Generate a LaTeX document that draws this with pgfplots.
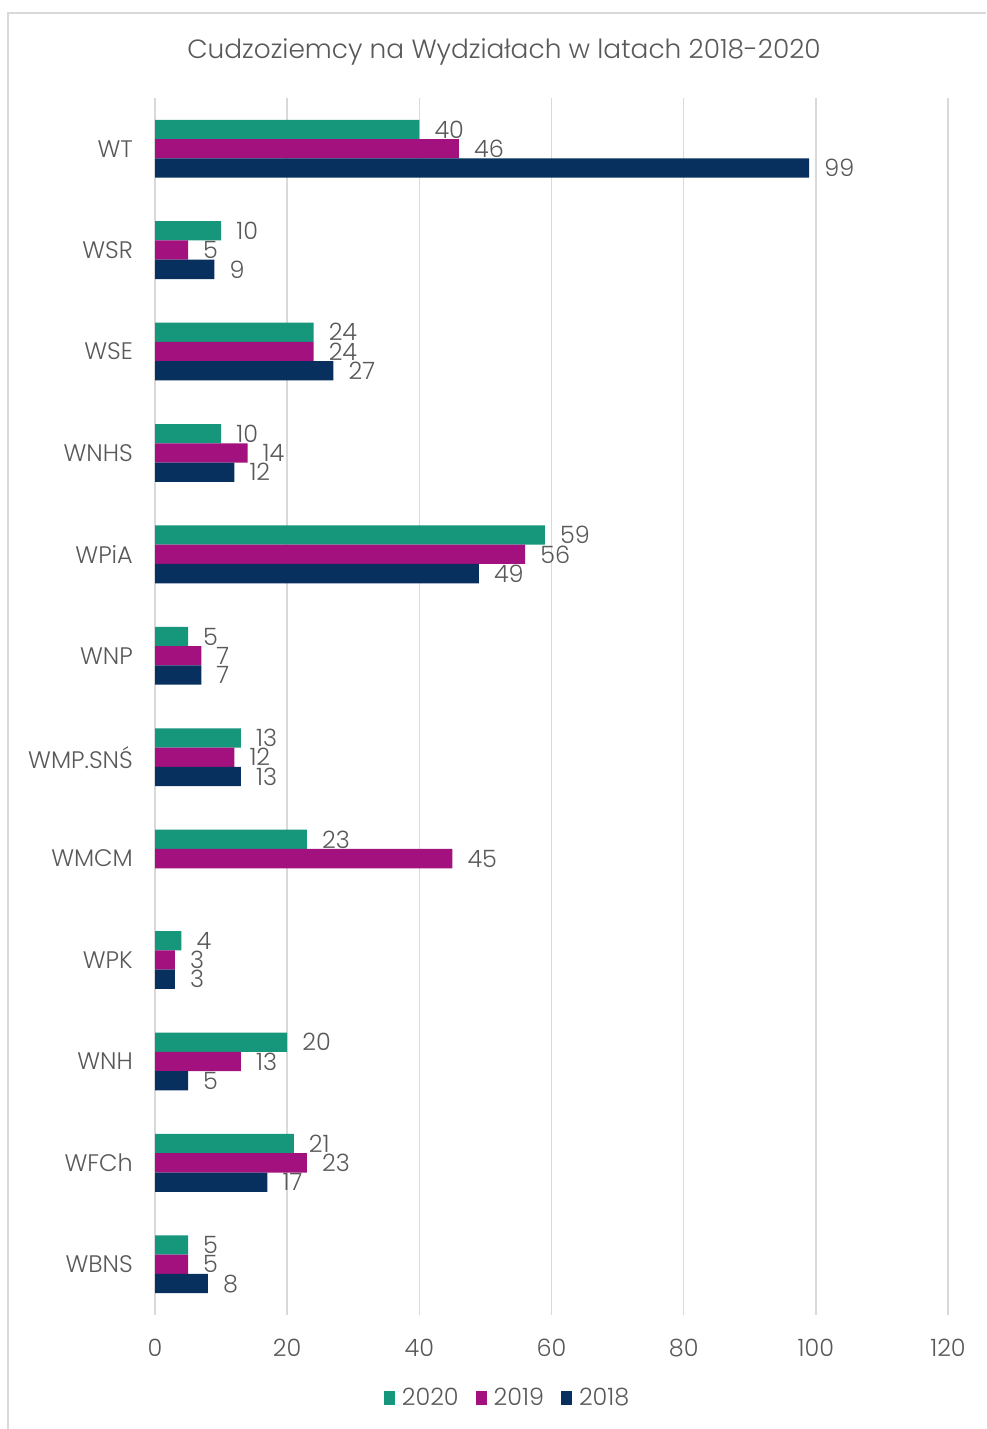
\documentclass[border=0pt]{standalone}
\usepackage{fontspec}
\setmainfont{Poppins}[UprightFont={* Light}]
\usepackage{pgfplots}
\pgfplotsset{compat=1.18}
\pgfkeys{/pgf/number format/assume math mode=true}
\definecolor{cA}{HTML}{16967B}
\definecolor{cB}{HTML}{A3117F}
\definecolor{cC}{HTML}{07305E}
\definecolor{txt}{HTML}{595959}
\definecolor{gridc}{HTML}{D9D9D9}
\begin{document}
\begin{tikzpicture}[x=1bp,y=1bp]
\useasboundingbox (0,0) rectangle (986,1429);
\fill[white] (0,0) rectangle (986,1429);
\draw[gridc, line width=1.5bp] (8,0) -- (8,1416) -- (986,1416);
\node[txt, font=\fontsize{26.5}{31}\selectfont] at (504,1377) {Cudzoziemcy na Wydziałach w latach 2018-2020};
\begin{axis}[
  at={(155bp,114bp)}, anchor=south west,
  scale only axis, width=793bp, height=1217bp,
  xbar, bar width=0.19,
  xmin=0, xmax=120, ymin=-0.5, ymax=11.5,
  xtick={0,20,...,120},
  ytick={0,...,11},
  yticklabels={WBNS,WFCh,WNH,WPK,WMCM,WMP.SNŚ,WNP,WPiA,WNHS,WSE,WSR,WT},
  axis line style={draw=none},
  major tick length=0pt,
  xmajorgrids, grid style={gridc, line width=1.5bp},
  tick label style={txt, font=\fontsize{24}{29}\selectfont},
  yticklabel style={inner sep=0pt, xshift=-22bp},
  xticklabel style={inner sep=0pt, yshift=-24bp},
  nodes near coords,
  every node near coord/.append style={txt, font=\fontsize{24}{29}\selectfont, anchor=west, inner sep=0pt, xshift=15bp},
  legend columns=3,
  legend style={at={(axis description cs:0.444,-0.068)}, anchor=center, draw=none, fill=none,
    font=\fontsize{24}{29}\selectfont, text=txt,
    nodes={inner sep=1bp},
    /tikz/every odd column/.append style={column sep=6bp},
    /tikz/every even column/.append style={column sep=16bp}},
  legend image code/.code={\fill[#1] (0bp,-7bp) rectangle (11bp,7bp);},
]
\addplot[fill=cA, draw=none, bar shift=0.19] coordinates {
(5,0) (21,1) (20,2) (4,3) (23,4) (13,5) (5,6) (59,7) (10,8) (24,9) (10,10) (40,11)};
\addplot[fill=cB, draw=none, bar shift=0] coordinates {
(5,0) (23,1) (13,2) (3,3) (45,4) (12,5) (7,6) (56,7) (14,8) (24,9) (5,10) (46,11)};
\addplot[fill=cC, draw=none, bar shift=-0.19] coordinates {
(8,0) (17,1) (5,2) (3,3) (13,5) (7,6) (49,7) (12,8) (27,9) (9,10) (99,11)};
\legend{2020,2019,2018}
\end{axis}
\end{tikzpicture}
\end{document}
